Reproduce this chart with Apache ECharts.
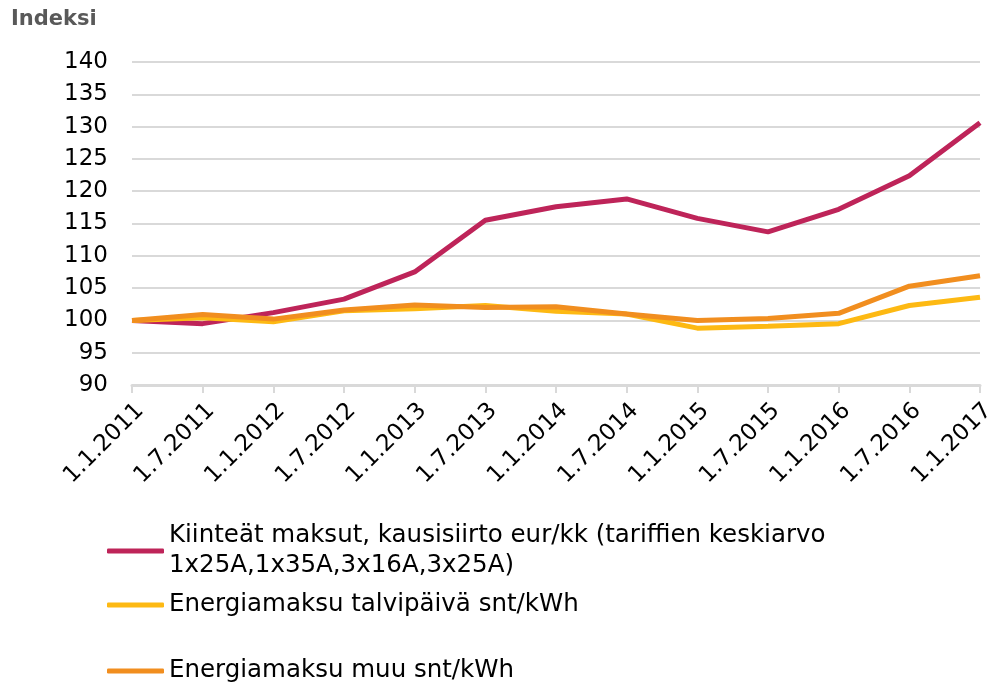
<!DOCTYPE html>
<html>
<head>
<meta charset="utf-8">
<script src="https://cdn.jsdelivr.net/npm/echarts@6/dist/echarts.min.js"></script>
<style>
  html, body { margin: 0; padding: 0; background: #fff; }
  #chart { width: 992px; height: 683px; }
</style>
</head>
<body>
<div id="chart"></div>
<script>
// kategoriat (päivämäärät)
const dates = ["1.1.2011", "1.7.2011", "1.1.2012", "1.7.2012", "1.1.2013", "1.7.2013",
  "1.1.2014", "1.7.2014", "1.1.2015", "1.7.2015", "1.1.2016", "1.7.2016", "1.1.2017"]

// sarjat, indeksi 1.1.2011 = 100
const kiinteat = [100, 99.5, 101.2, 103.3, 107.5, 115.5, 117.6, 118.8, 115.8, 113.7, 117.2, 122.4, 130.6]
const talvipaiva = [100, 100.4, 99.8, 101.5, 101.8, 102.3, 101.4, 101.0, 98.8, 99.1, 99.5, 102.3, 103.6]
const muu = [100, 100.9, 100.2, 101.6, 102.4, 102.0, 102.1, 101.0, 100.0, 100.3, 101.1, 105.3, 106.9]

const names = [
  "Kiinteät maksut, kausisiirto eur/kk (tariffien keskiarvo\n1x25A,1x35A,3x16A,3x25A)",
  "Energiamaksu talvipäivä snt/kWh",
  "Energiamaksu muu snt/kWh"
]
const colors = ["#BE2459", "#FDB913", "#F18E1F"]

const font = "DejaVu Sans"
const gridColor = "#d9d9d9"

const legendBase = {
  orient: "vertical",
  left: 102,
  icon: "roundRect",
  itemWidth: 57,
  itemHeight: 5,
  textStyle: { fontFamily: font, fontSize: 24.5, color: "#000", lineHeight: 30 }
}

const chart = echarts.init(document.getElementById("chart"))
chart.setOption({
  animation: false,
  color: colors,
  title: {
    text: "Indeksi",
    left: 6,
    top: 4,
    textStyle: { fontFamily: font, fontWeight: "bold", fontSize: 21, color: "#595959" }
  },
  legend: [
    { ...legendBase, top: 501, data: [names[0]],
      textStyle: { ...legendBase.textStyle, padding: [30, 0, 0, 0] } },
    { ...legendBase, top: 585, data: [names[1]] },
    { ...legendBase, top: 651, data: [names[2]] }
  ],
  grid: { left: 132, right: 12, top: 62, bottom: 298, containLabel: false, outerBoundsMode: "none" },
  xAxis: {
    type: "category",
    data: dates,
    boundaryGap: false,
    axisLine: { lineStyle: { color: gridColor, width: 3 } },
    axisTick: { show: true, length: 8, lineStyle: { color: gridColor, width: 2 } },
    axisLabel: {
      rotate: 45, margin: 14, verticalAlign: "top",
      fontFamily: font, fontSize: 23, color: "#000"
    }
  },
  yAxis: {
    type: "value",
    min: 90,
    max: 140,
    interval: 5,
    axisLine: { show: false },
    axisTick: { show: false },
    splitLine: { lineStyle: { color: gridColor, width: 2 } },
    axisLabel: { margin: 24, fontFamily: font, fontSize: 23, color: "#000" }
  },
  series: [
    { name: names[0], type: "line", data: kiinteat, showSymbol: false, lineStyle: { width: 5 } },
    { name: names[1], type: "line", data: talvipaiva, showSymbol: false, lineStyle: { width: 5 } },
    { name: names[2], type: "line", data: muu, showSymbol: false, lineStyle: { width: 5 } }
  ]
})
</script>
</body>
</html>
